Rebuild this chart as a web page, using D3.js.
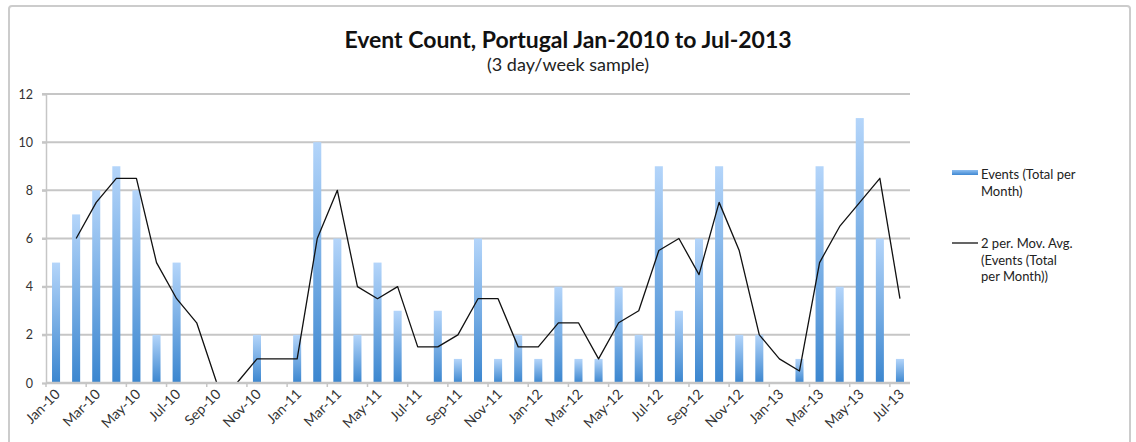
<!DOCTYPE html>
<html><head><meta charset="utf-8">
<script src="https://cdn.jsdelivr.net/npm/d3@7"></script>
<style>
html,body{margin:0;padding:0;background:#fff;}
svg{display:block;}
text{font-family:Lato,"Open Sans","Liberation Sans",sans-serif;}
</style></head>
<body>
<script>
const months = ["Jan-10","Feb-10","Mar-10","Apr-10","May-10","Jun-10","Jul-10","Aug-10","Sep-10","Oct-10","Nov-10","Dec-10",
"Jan-11","Feb-11","Mar-11","Apr-11","May-11","Jun-11","Jul-11","Aug-11","Sep-11","Oct-11","Nov-11","Dec-11",
"Jan-12","Feb-12","Mar-12","Apr-12","May-12","Jun-12","Jul-12","Aug-12","Sep-12","Oct-12","Nov-12","Dec-12",
"Jan-13","Feb-13","Mar-13","Apr-13","May-13","Jun-13","Jul-13"];
const events = [5,7,8,9,8,2,5,0,0,0,2,0, 2,10,6,2,5,3,0,3,1,6,1,2, 1,4,1,1,4,2,9,3,6,9,2,2, 0,1,9,4,11,6,1];
const movAvg = [null,6,7.5,8.5,8.5,5,3.5,2.5,0,0,1,1, 1,6,8,4,3.5,4,1.5,1.5,2,3.5,3.5,1.5, 1.5,2.5,2.5,1,2.5,3,5.5,6,4.5,7.5,5.5,2, 1,0.5,5,6.5,7.5,8.5,3.5];
const yTicks = [0,2,4,6,8,10,12];
const tickLabels = months.filter((d,i)=>i%2===0);

const W=1136,H=442;
const svg=d3.select("body").append("svg").attr("width",W).attr("height",H);

// outer border
svg.append("rect").attr("x",9).attr("y",6).attr("width",1121).attr("height",460)
  .attr("rx",3).attr("fill","#fff").attr("stroke","#cccccc").attr("stroke-width",2);

const defs=svg.append("defs");
const grad=defs.append("linearGradient").attr("id","barGrad").attr("x1",0).attr("y1",0).attr("x2",0).attr("y2",1);
grad.append("stop").attr("offset","0%").attr("stop-color","#b4d5fa");
grad.append("stop").attr("offset","100%").attr("stop-color","#3b86cf");
const lgrad=defs.append("linearGradient").attr("id","legGrad").attr("x1",0).attr("y1",0).attr("x2",0).attr("y2",1);
lgrad.append("stop").attr("offset","0%").attr("stop-color","#8ebef0");
lgrad.append("stop").attr("offset","100%").attr("stop-color","#3f88d2");

const x=d3.scaleBand().domain(months).range([46,910]).paddingInner(0.6).paddingOuter(0.3);
const y=d3.scaleLinear().domain([0,12]).range([383,94]);

// gridlines
svg.append("g").selectAll("line").data(yTicks.filter(d=>d>0)).join("line")
  .attr("x1",42).attr("x2",910).attr("y1",d=>y(d)).attr("y2",d=>y(d))
  .attr("stroke","#c6c6c6").attr("stroke-width",2);

// y axis
const yAxis=svg.append("g").attr("transform","translate(46,0)")
  .call(d3.axisLeft(y).tickValues(yTicks).tickSize(4).tickPadding(9));
yAxis.select(".domain").attr("stroke","#c6c6c6").attr("stroke-width",1.5);
yAxis.selectAll(".tick line").attr("stroke","#c6c6c6").attr("stroke-width",2);
yAxis.selectAll(".tick text").attr("font-size",12.5).attr("fill","#333").attr("font-family","Lato, sans-serif");

// bars
svg.append("g").selectAll("rect").data(events).join("rect")
  .attr("x",(d,i)=>x(months[i])).attr("width",x.bandwidth())
  .attr("y",d=>y(d)).attr("height",d=>y(0)-y(d))
  .attr("fill","url(#barGrad)");

// moving average line
const line=d3.line().defined(d=>d!==null).x((d,i)=>x(months[i])+x.bandwidth()/2).y(d=>y(d));
svg.append("path").datum(movAvg).attr("d",line).attr("fill","none")
  .attr("stroke","#111").attr("stroke-width",1.3).attr("stroke-linejoin","round");

// x axis (drawn over the line)
const step=x.step();
const xTickPos=d3.range(0,months.length+1,2).map(i=>46+i*step);
svg.append("line").attr("x1",46).attr("x2",910).attr("y1",383).attr("y2",383)
  .attr("stroke","#c6c6c6").attr("stroke-width",2.5);
svg.append("g").selectAll("line").data(xTickPos).join("line")
  .attr("x1",d=>d).attr("x2",d=>d).attr("y1",383).attr("y2",387)
  .attr("stroke","#c6c6c6").attr("stroke-width",1.5);
svg.append("g").selectAll("text").data(tickLabels).join("text")
  .attr("transform",d=>`translate(${x(d)+x.bandwidth()/2+5},${395}) rotate(-45)`)
  .attr("text-anchor","end").attr("font-size",14).attr("fill","#333").text(d=>d);

// title
svg.append("text").attr("x",568).attr("y",48).attr("text-anchor","middle")
  .attr("font-size",23).attr("font-weight","bold").attr("fill","#111")
  .text("Event Count, Portugal Jan-2010 to Jul-2013");
svg.append("text").attr("x",568).attr("y",71).attr("text-anchor","middle")
  .attr("font-size",18).attr("fill","#222").text("(3 day/week sample)");

// legend
const lg=svg.append("g");
lg.append("rect").attr("x",952).attr("y",170).attr("width",26).attr("height",5).attr("fill","url(#legGrad)");
const t1=lg.append("text").attr("x",981).attr("y",179).attr("font-size",13).attr("fill","#222");
t1.append("tspan").attr("x",981).text("Events (Total per");
t1.append("tspan").attr("x",981).attr("dy",16.5).text("Month)");
lg.append("line").attr("x1",952).attr("x2",978).attr("y1",243).attr("y2",243).attr("stroke","#111").attr("stroke-width",1.3);
const t2=lg.append("text").attr("x",981).attr("y",248).attr("font-size",13).attr("fill","#222");
t2.append("tspan").attr("x",981).text("2 per. Mov. Avg.");
t2.append("tspan").attr("x",981).attr("dy",16.5).text("(Events (Total");
t2.append("tspan").attr("x",981).attr("dy",16.5).text("per Month))");
</script>
</body></html>
